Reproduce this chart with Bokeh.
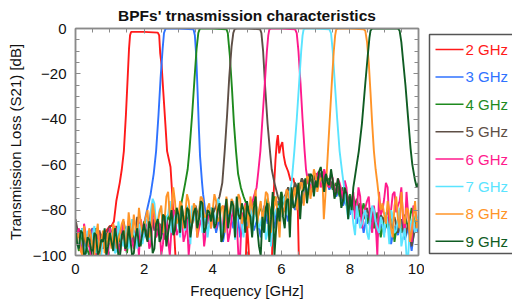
from bokeh.plotting import figure
from bokeh.models import LinearAxis, FixedTicker, Range1d, ColumnDataSource
from bokeh.layouts import row
from bokeh.embed import file_html
from bokeh.resources import INLINE
from bokeh.core.properties import value

N = None
TITLE = "BPFs' trnasmission characteristics"
X_LABEL = "Frequency [GHz]"
Y_LABEL = "Transmission Loss (S21) [dB]"
LABELS = ["2 GHz", "3 GHz", "4 GHz", "5 GHz", "6 GHz", "7 GHz", "8 GHz", "9 GHz"]
COLORS = ["#ff1a1a", "#2f72ff", "#1e8a1e", "#5e4f46", "#ff1a8c", "#5ae4ff", "#ff9428", "#0f5c23"]
X_TICKS = [0, 2, 4, 6, 8, 10]
Y_TICKS = [-100, -80, -60, -40, -20, 0]

# sampling grids of the noise floor readings (0.1 GHz, and the in-between 0.05 offsets)
GRID = [round(i * 0.1, 1) for i in range(101)]
GRID2 = [round(0.05 + i * 0.1, 2) for i in range(100)]

# ---- noise floor readings (dB); None = covered by a detailed segment ----
FLOOR_2 = [-92, -89, -91, -93, -90, -88, -94, -90, -92, -89,
           -87, N, N, N, N, N, N, N, N, N,
           N, N, N, N, N, N, N, N, N, N,
           -108, -112, -106, -115, -109, -111, -105, -113, -107, -110,
           -106, -112, -108, -114, -105, -110, -107, -113, -109, -104,
           N, -106, -112, -108, -111, -105, -109, N, N, N,
           N, N, N, N, N, N, -110, -106, -113, -108,
           -111, -105, -109, -114, -107, -112, -106, -110, -108, -113,
           -105, -111, -107, -112, -109, -106, -113, -108, -110, -105,
           -112, -107, -111, -106, -109, -113, -105, -110, -108, -112,
           -107]
FLOOR_3 = [-94, -90, -99, -92, -96, -88, -100, -93, -97, -91,
           -95, -89, -98, -92, -87, -96, -90, -94, -86, -92,
           N, N, N, N, N, N, N, N, N, N,
           N, N, N, N, N, N, N, N, N, -86,
           -80, -90, -83, -94, -85, -81, -88, -79, -92, -83,
           -87, -80, -89, -84, -92, -78, -86, -81, -88, -76,
           -83, -79, -85, -74, -80, -72, -77, -69, -73, -67,
           -70, -65, -68, -66, -71, -68, -74, -71, -78, -74,
           -82, -77, -86, -80, -90, -82, -88, -84, -92, -86,
           -90, -83, -95, -87, -91, -85, -93, -88, -98, -86,
           -90]
FLOOR_4 = [-91, -98, -89, -95, -100, -92, -88, -96, -93, -99,
           -90, -97, -87, -94, -91, -99, -86, -93, -89, -96,
           -85, -92, -88, -84, -90, -86, -93, -82, -87, -83,
           N, N, N, N, N, N, N, N, N, N,
           N, N, N, N, N, N, N, N, N, N,
           N, -80, -76, -84, -78, -86, -75, -82, -74, -80,
           -72, -78, -70, -76, -68, -73, -66, -70, -65, -68,
           -64, -67, -63, -68, -66, -71, -68, -74, -70, -78,
           -73, -80, -75, -83, -77, -86, -79, -88, -81, -92,
           -83, -88, -80, -94, -84, -90, -82, -88, -79, -86,
           -83]
FLOOR_5 = [-84, -92, -88, -96, -90, -100, -93, -89, -97, -91,
           -87, -94, -90, -98, -85, -92, -88, -95, -83, -90,
           -86, -93, -80, -89, -84, -91, -82, -88, -85, -80,
           -85, -79, -88, -82, -86, -78, -84, -80, -87, -82,
           N, N, N, N, N, N, N, N, N, N,
           N, N, N, N, N, N, N, N, N, N,
           N, -74, -70, -76, -68, -72, -66, -70, -64, -68,
           -65, -63, -67, -64, -70, -67, -73, -69, -76, -72,
           -79, -74, -82, -77, -84, -79, -86, -80, -88, -82,
           -85, -80, -88, -83, -90, -84, -92, -86, -96, -88,
           -84]
FLOOR_6 = [-93, -88, -99, -91, -96, -89, -100, -94, -90, -97,
           -88, -95, -90, -99, -86, -93, -89, -97, -91, -84,
           -92, -87, -95, -83, -90, -100, -86, -93, -88, -82,
           -89, -84, -91, -100, -86, -81, -88, -83, -90, -85,
           -82, -88, -79, -86, -83, -90, -78, -85, -100, -84,
           -80, N, N, N, N, N, N, N, N, N,
           N, N, N, N, N, N, N, N, N, N,
           -67, -63, -68, -65, -70, -66, -72, -68, -75, -70,
           -78, -72, -80, -74, -82, -76, -86, -78, -100, -82,
           -75, -70, -80, -72, -78, -70, -90, -82, -94, -80,
           -86]
FLOOR_7 = [-90, -97, -88, -100, -94, -91, -99, -95, -92, -100,
           -94, -89, -98, -91, -96, -87, -93, -90, -97, -88,
           -91, -85, -80, -77, -84, -79, -88, -82, -90, -83,
           -86, -80, -89, -82, -78, -85, -80, -90, -82, -86,
           -79, -84, -77, -88, -80, -83, -76, -85, -79, -92,
           -80, -77, -84, -79, -86, -81, -90, -96, -82, -78,
           -80, -74, N, N, N, N, N, N, N, N,
           N, N, N, N, N, N, N, N, N, N,
           -80, -86, -78, -88, -82, -90, -84, -80, -88, -83,
           -92, -86, -80, -90, -84, -96, -88, -100, -85, -90,
           -82]
FLOOR_8 = [-95, -90, -100, -93, -88, -97, -91, -100, -89, -96,
           -92, -86, -97, -90, -84, -93, -88, -82, -91, -85,
           -88, -80, -90, -82, -86, -78, -84, -72, -80, -76,
           -84, -78, -82, -76, -86, -79, -81, -75, -83, -77,
           -80, -76, -84, -78, -74, -82, -77, -80, -75, -83,
           -78, -74, -82, -86, -76, -80, -73, -90, -78, -84,
           -75, -79, -72, -77, -70, -74, -68, -72, -66, -70,
           -65, -68, N, N, N, N, N, N, N, N,
           N, N, N, N, N, N, N, N, N, N,
           -82, -76, -88, -78, -84, -72, -86, -80, -90, -76,
           -84]
FLOOR_9 = [-88, -97, -90, -99, -93, -100, -91, -98, -94, -100,
           -90, -98, -92, -100, -89, -96, -93, -99, -88, -95,
           -86, -94, -88, -97, -84, -92, -83, -90, -80, -89,
           -82, -78, -88, -80, -86, -79, -84, -77, -88, -81,
           -79, -86, -77, -92, -75, -82, -78, -74, -84, -80,
           -76, -83, -79, -88, -100, -90, -77, -84, -100, -79,
           -72, -88, -75, -70, -78, -68, -72, -66, -70, -65,
           -67, -63, -66, -64, -69, -67, -72, -70, -76, -73,
           N, N, N, N, N, N, N, N, N, N,
           N, N, N, N, N, N, N, N, N, N,
           N]

# in-between readings (0.05, 0.15, ... 9.95 GHz) for the most visible traces
MID_6 = [-90, -97, -86, -94, -100, -92, -88, -96, -91, -100,
         -93, -87, -96, -90, -98, -85, -94, -89, -100, -88,
         -86, -97, -81, -92, -86, -95, -84, -100, -80, -91,
         -86, -94, -84, -90, -79, -92, -85, -96, -82, -88,
         -86, -80, -92, -78, -94, -84, -88, -100, -81, -77,
         -84, N, N, N, N, N, N, N, N, N,
         N, N, N, N, N, N, N, N, N, -70,
         -64, -70, -62, -69, -64, -74, -66, -71, -67, -81,
         -76, -84, -70, -88, -79, -74, -90, -85, -72, -80,
         -68, -86, -73, -81, -76, -84, -72, -90, -78, -84]
MID_7 = [-95, -91, -100, -89, -96, -87, -93, -100, -90, -94,
         -91, -99, -85, -94, -90, -97, -84, -92, -86, -95,
         -84, -93, -75, -86, -80, -90, -83, -76, -87, -80,
         -92, -84, -78, -95, -83, -88, -76, -84, -92, -79,
         -88, -75, -91, -82, -86, -79, -93, -81, -87, -84,
         -85, -91, -78, -88, -82, -93, -84, -86, -80, -88,
         -76, -82, N, N, N, N, N, N, N, N,
         N, N, N, N, N, N, N, N, N, -84,
         -78, -91, -83, -86, -80, -93, -78, -85, -90, -86,
         -81, -95, -84, -89, -79, -92, -100, -87, -83, -88]
MID_8 = [-92, -98, -87, -96, -91, -100, -86, -94, -99, -90,
         -97, -89, -93, -86, -95, -81, -92, -88, -79, -90,
         -83, -92, -77, -88, -81, -90, -74, -83, -70, -86,
         -76, -88, -73, -85, -77, -92, -74, -83, -79, -88,
         -73, -85, -79, -90, -81, -75, -87, -73, -86, -78,
         -88, -79, -71, -80, -84, -72, -82, -80, -74, -92,
         -82, -71, -84, -74, -80, -68, -78, -65, -75, -62,
         -72, -66, N, N, N, N, N, N, N, N,
         N, N, N, N, N, N, N, N, N, -77,
         -86, -80, -92, -74, -88, -82, -79, -94, -83, -88]
MID_9 = [-95, -89, -100, -92, -97, -90, -100, -93, -88, -96,
         -94, -88, -100, -91, -97, -87, -100, -92, -96, -90,
         -91, -85, -99, -86, -94, -82, -96, -85, -91, -79,
         -90, -84, -79, -92, -81, -88, -76, -90, -80, -85,
         -88, -80, -94, -81, -88, -76, -92, -82, -77, -90,
         -81, -92, -74, -96, -83, -79, -94, -72, -88, -85,
         -83, -76, -92, -79, -73, -84, -71, -77, -64, -74,
         -70, -61, -72, -68, -62, -75, -66, -79, -70, -84,
         N, N, N, N, N, N, N, N, N, N,
         N, N, N, N, N, N, N, N, N, N]

# ---- detailed readings: passbands, skirts, spurious response ----
SEG_F_2 = [[1.05, 1.12, 1.19, 1.29, 1.35, 1.41, 1.47, 1.52, 1.56, 1.59, 1.62, 2.0, 2.4, 2.44,
            2.47, 2.51, 2.56, 2.62, 2.67, 2.77, 2.82, 2.87, 2.92, 2.95],
           [4.96, 5.0, 5.04, 5.08],
           [5.7, 5.73, 5.78, 5.83, 5.87, 5.9, 5.94, 5.98, 6.03, 6.07, 6.12, 6.2, 6.27, 6.35,
            6.41, 6.47, 6.51, 6.55]]
SEG_S_2 = [[-87, -85, -76, -68, -62, -54, -38, -22, -9, -3, -1.5, -1.5, -1.8, -3,
            -11, -16, -28, -42, -54, -61, -73, -88, -102, -110],
           [-104, -86, -95, -106],
           [-108, -100, -72, -58, -50, -47, -55, -52, -50, -56, -60, -63, -67, -66,
            -70, -72, -100, -110]]
SEG_F_3 = [[2.0, 2.04, 2.1, 2.19, 2.28, 2.35, 2.42, 2.48, 2.54, 2.58, 2.62, 2.66, 3.0, 3.44,
            3.48, 3.52, 3.56, 3.6, 3.63, 3.69, 3.72, 3.78, 3.8]]
SEG_S_3 = [[-86, -83, -79, -73, -64, -54, -38, -22, -9, -2, -0.3, 0, 0, -0.3,
            -3, -12, -28, -45, -56, -68, -73, -80, -84]]
SEG_F_4 = [[3.0, 3.1, 3.2, 3.27, 3.32, 3.4, 3.47, 3.53, 3.58, 3.62, 3.66, 4.0, 4.4, 4.44,
            4.5, 4.56, 4.62, 4.68, 4.74, 4.82, 4.9, 5.0]]
SEG_S_4 = [[-84, -76, -68, -62, -54, -38, -22, -9, -2, -0.3, 0, 0, -0.3, -2,
            -12, -26, -42, -54, -64, -70, -74, -78]]
SEG_F_5 = [[4.0, 4.1, 4.2, 4.28, 4.35, 4.42, 4.48, 4.55, 4.6, 4.64, 4.7, 5.0, 5.38, 5.42,
            5.47, 5.53, 5.6, 5.67, 5.72, 5.8, 5.9, 6.0]]
SEG_S_5 = [[-82, -78, -74, -68, -54, -38, -22, -8, -2, -0.3, 0, 0, -0.3, -2,
            -10, -26, -42, -54, -62, -68, -74, -78]]
SEG_F_6 = [[5.1, 5.2, 5.28, 5.33, 5.39, 5.45, 5.52, 5.58, 5.62, 5.65, 5.7, 6.0, 6.4, 6.45,
            6.5, 6.56, 6.62, 6.68, 6.72, 6.78, 6.85, 6.9]]
SEG_S_6 = [[-80, -74, -70, -63, -54, -40, -24, -10, -3, -0.5, 0, 0, -0.3, -2,
            -10, -24, -40, -54, -62, -68, -69, -72]]
SEG_F_7 = [[6.2, 6.3, 6.38, 6.45, 6.52, 6.58, 6.62, 6.65, 6.7, 7.0, 7.4, 7.45, 7.5, 7.56,
            7.63, 7.7, 7.78, 7.85, 7.9]]
SEG_S_7 = [[-76, -68, -54, -40, -24, -10, -3, -0.5, 0, 0, -0.3, -2, -10, -24,
            -40, -54, -64, -72, -78]]
SEG_F_8 = [[7.2, 7.24, 7.28, 7.33, 7.36, 7.42, 7.48, 7.53, 7.57, 7.6, 7.65, 8.0, 8.4, 8.45,
            8.5, 8.55, 8.6, 8.65, 8.7, 8.75, 8.8, 8.85, 8.9]]
SEG_S_8 = [[-66, -84, -75, -62, -54, -38, -22, -10, -3, -0.5, 0, 0, -0.3, -1,
            -6, -15, -28, -42, -54, -62, -68, -75, -80]]
SEG_F_9 = [[8.0, 8.05, 8.1, 8.15, 8.2, 8.26, 8.35, 8.45, 8.52, 8.57, 8.6, 8.65, 9.0, 9.4,
            9.45, 9.5, 9.55, 9.62, 9.7, 9.77, 9.82, 9.9, 9.95, 10.0]]
SEG_S_9 = [[-74, -80, -70, -65, -60, -54, -42, -24, -12, -4, -1, 0, 0, 0,
            -1, -6, -14, -25, -40, -53, -60, -67, -70, -68]]

FLOORS = [FLOOR_2, FLOOR_3, FLOOR_4, FLOOR_5, FLOOR_6, FLOOR_7, FLOOR_8, FLOOR_9]
MIDS = [[], [], [], [], MID_6, MID_7, MID_8, MID_9]
SEG_FS = [SEG_F_2, SEG_F_3, SEG_F_4, SEG_F_5, SEG_F_6, SEG_F_7, SEG_F_8, SEG_F_9]
SEG_SS = [SEG_S_2, SEG_S_3, SEG_S_4, SEG_S_5, SEG_S_6, SEG_S_7, SEG_S_8, SEG_S_9]


def build(floor, mid, seg_f, seg_s):
    pts = []
    for f, v in list(zip(GRID, floor)) + list(zip(GRID2, mid)):
        if v is None:
            continue
        if any(sf[0] <= f <= sf[-1] for sf in seg_f):
            continue
        pts.append((f, v))
    for sf, ss in zip(seg_f, seg_s):
        pts.extend(zip(sf, ss))
    pts.sort()
    return [q[0] for q in pts], [q[1] for q in pts]


FONT = "Liberation Sans"
AX = "#8a8a8a"
TXT = "#111111"

p = figure(width=424, height=305, x_range=Range1d(0, 10), y_range=Range1d(-100, 0),
           output_backend="svg", toolbar_location=None, title=TITLE,
           min_border_left=75, min_border_right=6, min_border_top=28, min_border_bottom=50)
p.title.text_font = FONT
p.title.text_font_size = "15.5px"
p.title.text_font_style = "bold"
p.title.align = "center"
p.title.standoff = 9
p.title.text_color = TXT
p.grid.visible = False
p.outline_line_color = AX
p.outline_line_width = 1.5
p.background_fill_color = "white"
p.border_fill_color = "white"

for i in range(len(LABELS)):
    fx, fy = build(FLOORS[i], MIDS[i], SEG_FS[i], SEG_SS[i])
    p.line(fx, fy, line_color=COLORS[i], line_width=1.9)


def style_axis(ax, show_labels):
    ax.axis_line_color = AX
    ax.axis_line_width = 1.5
    ax.major_tick_line_color = AX
    ax.minor_tick_line_color = AX
    ax.major_tick_in = 5
    ax.major_tick_out = 0
    ax.minor_tick_in = 4
    ax.minor_tick_out = 0
    ax.major_label_text_font = FONT
    ax.axis_label_text_font = FONT
    ax.axis_label_text_font_style = "normal"
    ax.axis_label_text_font_size = "15px"
    ax.axis_label_text_color = TXT
    if show_labels:
        ax.major_label_text_font_size = "15px"
        ax.major_label_text_color = TXT
    else:
        ax.major_label_text_font_size = "1px"
        ax.major_label_text_color = None
        ax.major_label_standoff = 0


p.xaxis.ticker = FixedTicker(ticks=X_TICKS, minor_ticks=[i * 0.5 for i in range(21)])
p.yaxis.ticker = FixedTicker(ticks=Y_TICKS, minor_ticks=[-100 + 5 * i for i in range(21)])
style_axis(p.xaxis[0], True)
style_axis(p.yaxis[0], True)
p.xaxis.axis_label = X_LABEL
p.yaxis.axis_label = Y_LABEL
p.xaxis.major_label_standoff = 8
p.xaxis.axis_label_standoff = 5
p.yaxis.major_label_standoff = 9
p.yaxis.axis_label_standoff = 6

top = LinearAxis(ticker=FixedTicker(ticks=X_TICKS, minor_ticks=[i * 0.5 for i in range(21)]))
style_axis(top, False)
p.add_layout(top, "above")
right = LinearAxis(ticker=FixedTicker(ticks=Y_TICKS, minor_ticks=[-100 + 5 * i for i in range(21)]))
style_axis(right, False)
p.add_layout(right, "right")

# ---- legend panel (its ranges are page pixels, so layout is given directly) ----
lg = figure(width=88, height=305, x_range=Range1d(424, 512), y_range=Range1d(255, 28),
            output_backend="svg", toolbar_location=None, x_axis_type=None, y_axis_type=None,
            min_border_left=0, min_border_right=0, min_border_top=28, min_border_bottom=50,
            title=None)
lg.grid.visible = False
lg.outline_line_color = None
lg.background_fill_color = "white"
lg.border_fill_color = "white"
lg.quad(left=[429], right=[530], top=[34], bottom=[253], fill_alpha=0,
        line_color="#555555", line_width=1.5)
ys = [49 + 27.4 * k for k in range(len(LABELS))]
src = ColumnDataSource(dict(y=ys, x0=[435] * len(LABELS), x1=[463] * len(LABELS),
                            xt=[465] * len(LABELS), label=LABELS, color=COLORS))
lg.segment(x0="x0", y0="y", x1="x1", y1="y", line_color="color", line_width=1.5, source=src)
lg.text(x="xt", y="y", text="label", text_color="color", text_font=value(FONT),
        text_font_size="15px", text_baseline="middle", source=src)

layout = row(p, lg, spacing=0)
open("out.html", "w").write(file_html(layout, INLINE))
